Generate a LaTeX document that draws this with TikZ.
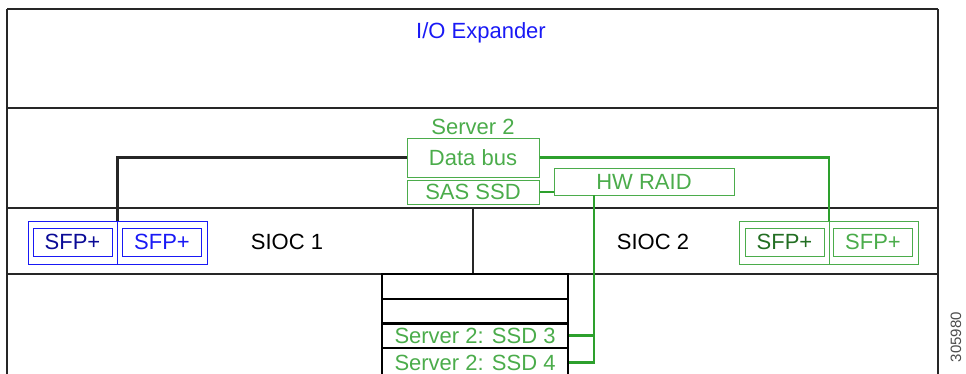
\documentclass[tikz,border=0pt]{standalone}
\usepackage{fontspec}
\setmainfont{Liberation Sans}
\usetikzlibrary{positioning}
\usepackage{xcolor}
\definecolor{expblue}{RGB}{25,25,245}
\definecolor{navyblue}{RGB}{10,10,150}
\definecolor{srvgreen}{RGB}{75,172,75}
\definecolor{deepgreen}{RGB}{35,110,35}
\definecolor{wiregreen}{RGB}{45,160,45}

\begin{document}
\begin{tikzpicture}[x=1pt, y=-1pt, every node/.style={
    rectangle,
    inner sep=0pt,
    font=\fontsize{22}{24}\selectfont
},
    sfpgroup/.style={draw, line width=1pt, minimum width=179pt, minimum height=43pt},
    sfpbox/.style={draw, line width=1pt, minimum width=79pt, minimum height=28pt},
    srvbox/.style={draw=srvgreen, line width=1pt, text=srvgreen, minimum width=132pt},
    diskbox/.style={draw, line width=2pt, minimum width=186pt, minimum height=25pt}
]
    \useasboundingbox (0,0) rectangle (966,373);

    % chassis lines
    \draw[line width=2.4pt, black!85] (7,9) -- (938,9);
    \draw[line width=2.4pt, black!85] (7,9) -- (7,390);
    \draw[line width=2.4pt, black!85] (938,9) -- (938,390);
    \draw[line width=2.4pt, black!85] (7,108) -- (938,108);
    \draw[line width=2.4pt, black!85] (7,208) -- (938,208);
    \draw[line width=2.4pt, black!85] (7,274) -- (938,274);
    \draw[line width=2pt, black!85] (473,208) -- (473,274);

    \node (io_expander) [text=expblue, shift={(481, 33)}]
    {
        I/O Expander
    };

    \node (server_2) [text=srvgreen, shift={(473, 127)}]
    {
        Server 2
    };
    \node (data_bus) [srvbox, minimum height=39pt, shift={(473, 157.5)}]
    {
        Data bus
    };
    \node (sas_ssd) [srvbox, minimum height=24pt, shift={(473, 192)}]
    {
        SAS SSD
    };
    \node (hw_raid) [srvbox, minimum width=180pt, minimum height=27pt, shift={(644, 181.5)}]
    {
        HW RAID
    };
    \coordinate (raid_drop) at (594, 195);

    \node (sioc_1) [shift={(287, 242)}]
    {
        SIOC 1
    };
    \node (sioc_2) [shift={(653, 242)}]
    {
        SIOC 2
    };

    \node (sfp_group_1) [sfpgroup, draw=expblue, shift={(117.5, 242.5)}] {};
    \node (sfp_1a) [sfpbox, draw=expblue, text=navyblue, shift={(72.5, 242)}]
    {
        SFP+
    };
    \node (sfp_1b) [sfpbox, draw=expblue, text=expblue, shift={(162, 242)}]
    {
        SFP+
    };

    \node (sfp_group_2) [sfpgroup, draw=srvgreen, shift={(829, 242.5)}] {};
    \node (sfp_2a) [sfpbox, draw=srvgreen, text=deepgreen, shift={(784.5, 242)}]
    {
        SFP+
    };
    \node (sfp_2b) [sfpbox, draw=srvgreen, text=srvgreen, shift={(873, 242)}]
    {
        SFP+
    };

    \node (slot_1) [diskbox, shift={(475, 286.5)}] {};
    \node (slot_2) [diskbox, shift={(475, 311)}] {};
    \node (ssd_3) [diskbox, text=srvgreen, shift={(475, 335.5)}]
    {
        Server 2: SSD 3
    };
    \node (ssd_4) [diskbox, text=srvgreen, minimum height=29pt, shift={(475, 362.5)}]
    {
        Server 2: SSD 4
    };

    \node (fig_id) [text=black!70, font=\fontsize{15}{17}\selectfont, shift={(956, 312)}, rotate=90, anchor=east]
    {
        305980
    };

    \draw[expblue, line width=1pt] (sfp_group_1.north) to (sfp_group_1.south);
    \draw[srvgreen, line width=1pt] (sfp_group_2.north) to (sfp_group_2.south);

    \draw[black!85, line width=2.5pt] (data_bus.west) -| (sfp_group_1.north);
    \draw[wiregreen, line width=2.5pt] (data_bus.east) -| (sfp_group_2.north);

    \draw[wiregreen, line width=2.5pt] (sas_ssd.east) to (sas_ssd.east -| hw_raid.west);
    \draw[wiregreen, line width=2.5pt] (raid_drop) |- (ssd_4.east);
    \draw[wiregreen, line width=2.5pt] (ssd_3.east) to (ssd_3.east -| raid_drop);
\end{tikzpicture}
\end{document}
